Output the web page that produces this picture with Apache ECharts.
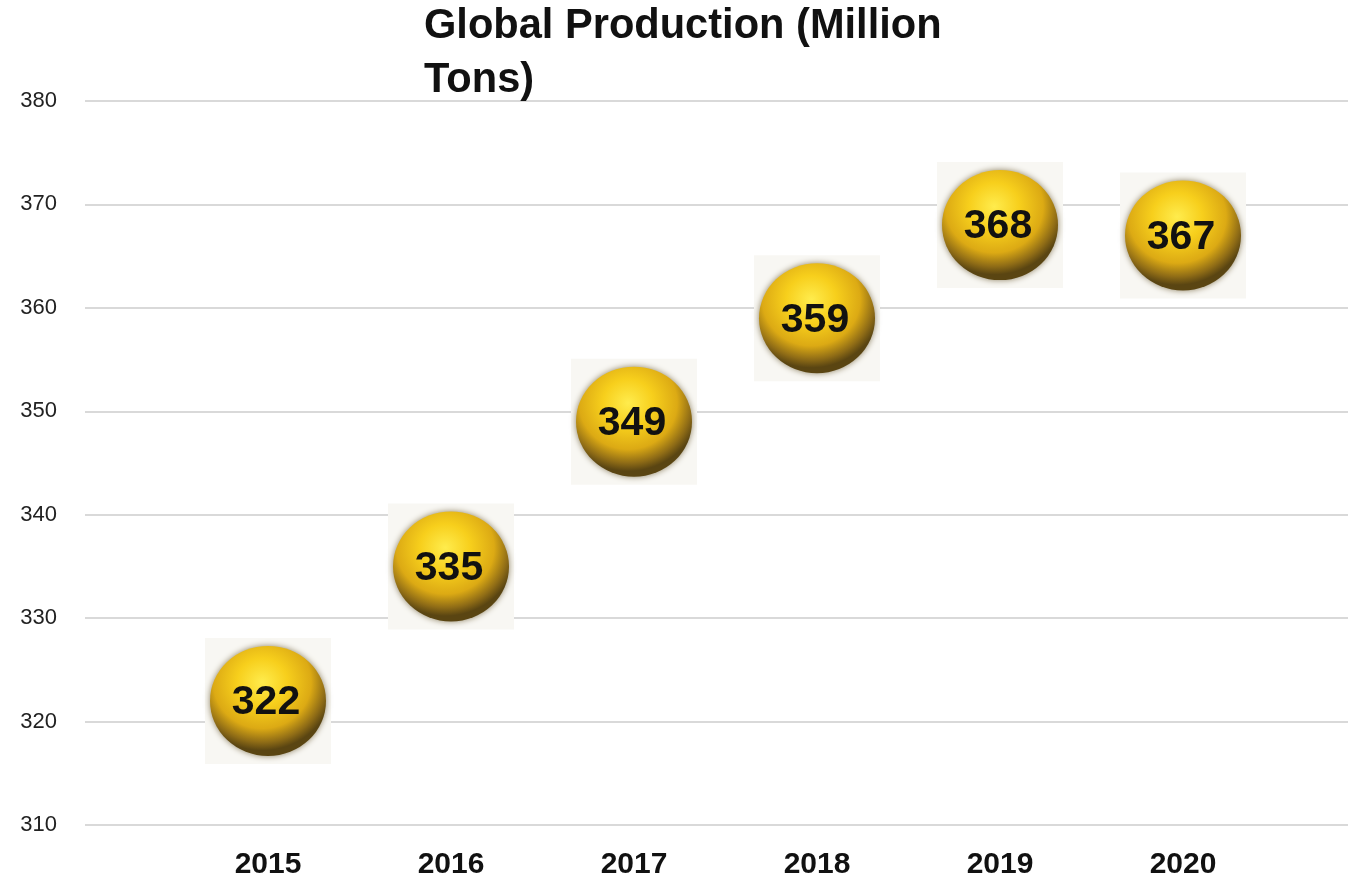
<!DOCTYPE html>
<html>
<head>
<meta charset="utf-8">
<title>Global Production (Million Tons)</title>
<script src="https://cdn.jsdelivr.net/npm/echarts@6/dist/echarts.min.js"></script>
<style>
  html, body { margin: 0; padding: 0; background: #fff; }
  #chart { width: 1348px; height: 880px; }
</style>
</head>
<body>
<div id="chart"></div>
<script>
// data
const years = ['2015', '2016', '2017', '2018', '2019', '2020'];
const production = [322, 335, 349, 359, 368, 367];
const yTicks = [310, 320, 330, 340, 350, 360, 370, 380];

// empty slots on both ends so the years sit inside the grid
const categories = [''].concat(years, ['']);
const points = years.map((y, i) => [y, production[i]]);

// golden ball, softer rim like the reference picture
const sphere = {
    type: 'radial', x: 0.45, y: 0.33, r: 0.62,
    colorStops: [
        { offset: 0, color: '#ffec4d' },
        { offset: 0.35, color: '#f7cf1c' },
        { offset: 0.68, color: '#dcaa14' },
        { offset: 0.88, color: '#8f6c16' },
        { offset: 1, color: '#5a4512' }
    ]
};

const chart = echarts.init(document.getElementById('chart'));
chart.setOption({
    animation: false,
    title: {
        text: 'Global Production (Million\nTons)',
        left: 424,
        top: 0,
        padding: 0,
        textStyle: {
            fontFamily: 'Liberation Sans, Arial, sans-serif',
            fontSize: 41.6,
            fontWeight: 'bold',
            color: '#111',
            lineHeight: 54
        }
    },
    grid: { left: 85, right: -18, top: 101, bottom: 55, outerBoundsMode: 'none' },
    xAxis: {
        type: 'category',
        data: categories,
        boundaryGap: false,
        axisLine: { show: false },
        axisTick: { show: false },
        splitLine: { show: false },
        axisLabel: {
            margin: 25,
            fontFamily: 'Liberation Sans, Arial, sans-serif',
            fontSize: 30,
            fontWeight: 'bold',
            color: '#111'
        }
    },
    yAxis: {
        type: 'value',
        min: yTicks[0],
        max: yTicks[yTicks.length - 1],
        interval: 10,
        axisLine: { show: false },
        axisTick: { show: false },
        splitLine: { lineStyle: { color: '#d9d9d9', width: 2 } },
        axisLabel: {
            margin: 28,
            fontFamily: 'Liberation Sans, Arial, sans-serif',
            fontSize: 22,
            color: '#222'
        }
    },
    series: [
        {
            // faint square behind each ball (like the pasted picture)
            type: 'scatter',
            data: points,
            symbol: 'rect',
            symbolSize: [126, 126],
            itemStyle: { color: '#f8f7f3', opacity: 1 },
            z: 1,
            silent: true
        },
        {
            type: 'scatter',
            data: points,
            symbol: 'circle',
            symbolSize: [116, 110],
            itemStyle: {
                color: sphere,
                opacity: 1,
                shadowBlur: 6,
                shadowColor: 'rgba(70, 50, 0, 0.6)'
            },
            z: 2,
            label: {
                show: true,
                position: 'inside',
                offset: [-2, 2],
                formatter: p => p.value[1],
                fontFamily: 'Liberation Sans, Arial, sans-serif',
                fontSize: 41,
                fontWeight: 'bold',
                color: '#111'
            }
        }
    ]
});
</script>
</body>
</html>
